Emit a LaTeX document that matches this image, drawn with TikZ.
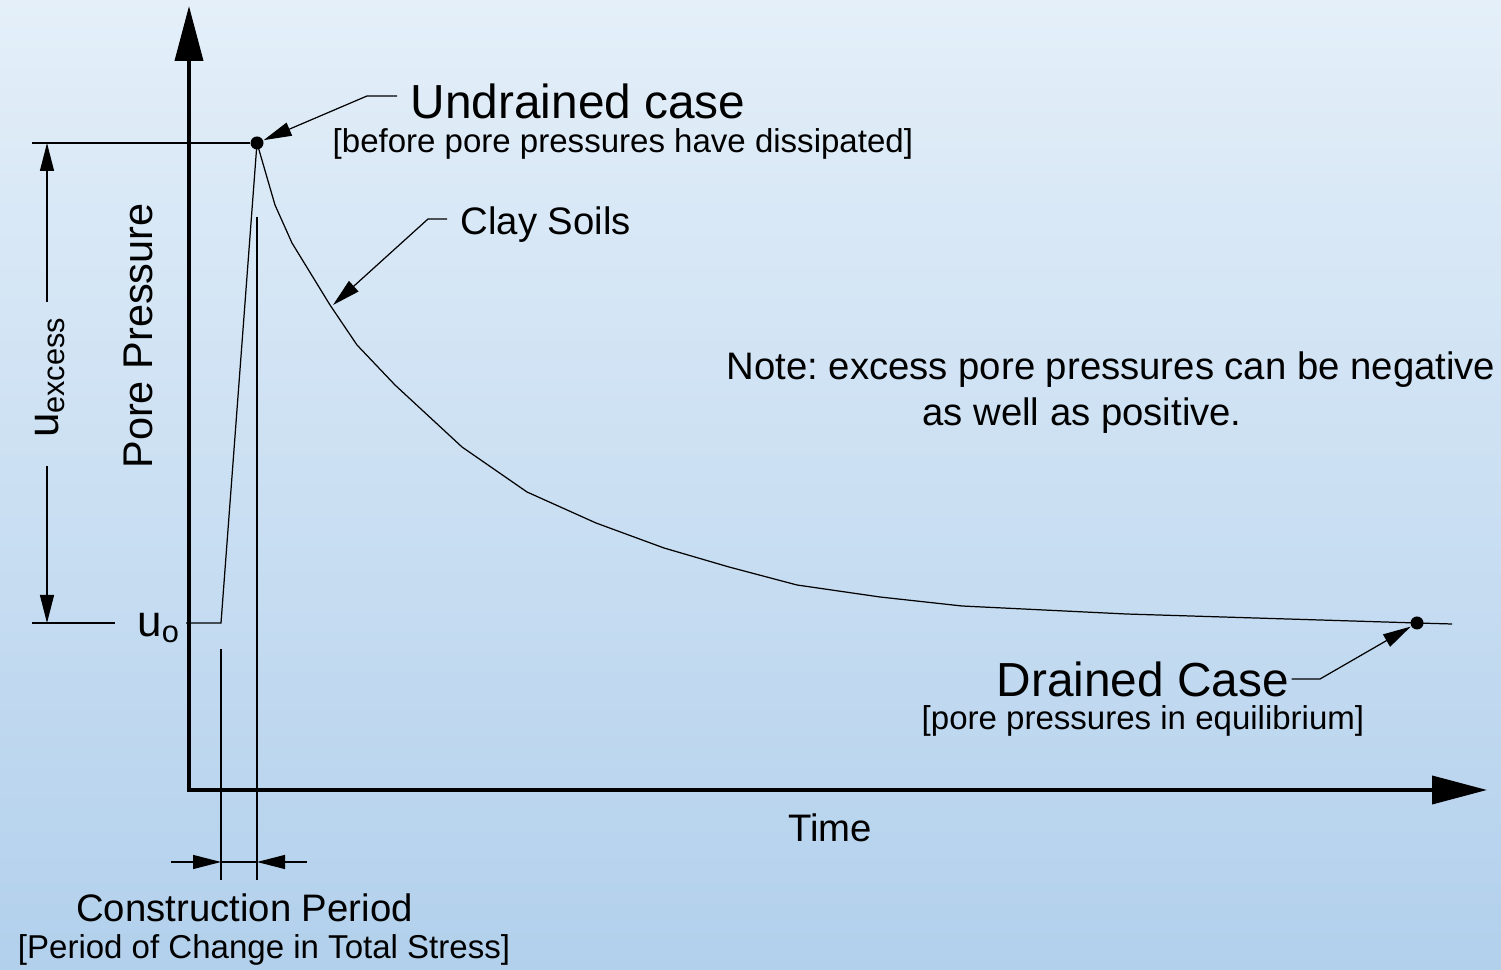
\documentclass[tikz,border=0pt]{standalone}
\usepackage{fontspec}
\setmainfont{Liberation Sans}
\frenchspacing
\usepackage{tikz}
\usetikzlibrary{arrows.meta,positioning}
\definecolor{bgtop}{RGB}{228,239,249}
\definecolor{bgbot}{RGB}{178,208,236}
\tikzset{
axisline/.style={line width=1.1pt,{Triangle[length=5.5mm,width=2.8mm]}-{Triangle[length=5.5mm,width=2.8mm]}},
thinline/.style={line width=0.35pt},
leader/.style={line width=0.35pt,-{Triangle[length=2.8mm,width=1.4mm]}},
ptdot/.style={circle,fill,inner sep=0pt,minimum size=1.3mm},
txtbig/.style={inner sep=0pt,font=\fontsize{13.6}{16}\selectfont},
txtmid/.style={inner sep=0pt,font=\fontsize{10.9}{13}\selectfont},
txtsmall/.style={inner sep=0pt,font=\fontsize{9.4}{11}\selectfont}
}

\begin{document}
\begin{tikzpicture}
\useasboundingbox (0,0) rectangle (15.01,9.70);
\shade[top color=bgtop,bottom color=bgbot] (0,0) rectangle (15.01,9.70);

\coordinate (O) at (1.89,1.80);
\coordinate (ytop) at (1.89,9.64);
\coordinate (xend) at (14.87,1.80);
\draw[axisline] (ytop) -- (O) -- (xend);

\node[ptdot] (peak) at (2.57,8.27) {};
\node[ptdot] (drained) at (14.17,3.47) {};
\coordinate (start) at (2.21,3.47);
\coordinate (claytip) at (3.33,6.65);

\draw[thinline] (1.86,3.47) -- (start) -- (peak.center) -- (2.75,7.65) -- (2.92,7.27) -- (3.30,6.65) -- (3.57,6.25) -- (3.95,5.85) -- (4.62,5.23) -- (5.27,4.78) -- (5.96,4.47) -- (6.64,4.22) -- (7.29,4.03) -- (7.97,3.85) -- (8.80,3.73) -- (9.62,3.64) -- (11.26,3.56) -- (drained.center) -- (14.52,3.46);

\node[inner sep=0pt,rotate=90,font=\fontsize{11.8}{14}\selectfont] (pp) at (1.38,6.34) {Pore Pressure};
\node[inner sep=0pt,rotate=90] (uex) at (0.50,5.93) {\fontsize{12.5}{15}\selectfont u\textsubscript{excess}};
\node[inner sep=0pt] (uo) at (1.59,3.42) {\fontsize{12.5}{15}\selectfont u\textsubscript{o}};

\draw[thinline] (0.32,8.27) -- (peak);
\draw[thinline] (0.32,3.47) -- (1.15,3.47);
\draw[leader] (0.47,6.68) -- (0.47,8.27);
\draw[leader] (0.47,5.04) -- (0.47,3.47);

\draw[thinline] (2.21,3.21) -- (2.21,0.90);
\draw[thinline] (2.57,7.53) -- (2.57,0.90);
\draw[leader] (1.71,1.08) -- (2.21,1.08);
\draw[leader] (3.07,1.08) -- (2.57,1.08);
\draw[thinline] (2.21,1.08) -- (2.57,1.08);

\node[txtmid] (cons) at (2.445,0.62) {Construction Period};
\node[txtsmall] (cons2) at (2.64,0.20) {[Period of Change in Total Stress]};
\node[txtmid] (time) at (8.30,1.42) {Time};

\node[txtbig,anchor=west] (undr) at (4.10,8.69) {Undrained case};
\node[txtsmall,anchor=west] (undr2) at (3.32,8.26) {[before pore pressures have dissipated]};
\draw[leader] (3.97,8.74) -- (3.67,8.74) -- (peak);

\node[txtmid,anchor=west] (clay) at (4.60,7.45) {Clay Soils};
\draw[leader] (4.47,7.51) -- (4.28,7.51) -- (claytip);

\node[txtmid] (note1) at (11.11,6.00) {Note: excess pore pressures can be negative};
\node[txtmid] (note2) at (10.82,5.54) {as well as positive.};

\node[txtbig,anchor=west] (drn) at (9.96,2.91) {Drained Case};
\node[txtsmall,anchor=west] (drn2) at (9.21,2.49) {[pore pressures in equilibrium]};
\draw[leader] ([xshift=0.2mm]drn.east) -- (13.20,2.91) -- (drained);
\end{tikzpicture}
\end{document}
